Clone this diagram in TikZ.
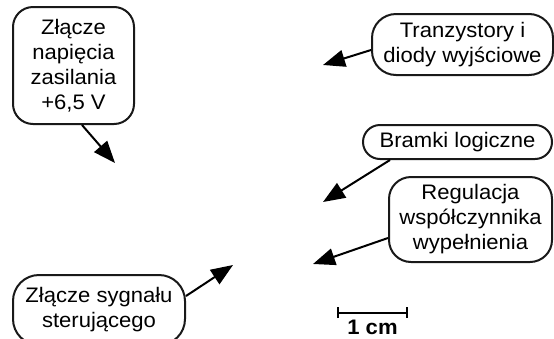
\documentclass[tikz,border=0pt]{standalone}
\usepackage{fontspec}
\setmainfont{Liberation Sans}[FakeStretch=1.05]
\usetikzlibrary{arrows.meta}
\begin{document}
\begin{tikzpicture}[x=1pt,y=-1pt,
  lbl/.style={draw=black!90, line width=2pt, fill=white, align=center, inner sep=0pt,
    font=\fontsize{21}{25}\selectfont},
  arr/.style={line width=2pt, -{Triangle[length=22pt,width=17pt]}}]
\useasboundingbox (0,0) rectangle (554,338);
\clip (0,0) rectangle (554,338);
\node[lbl, rounded corners=20pt, minimum width=121pt, minimum height=117pt] (b1) at (73.5,65.5)
  {Złącze\\napięcia\\zasilania\\+6,5 V};
\node[lbl, rounded corners=24pt, minimum width=181pt, minimum height=61pt] (b2) at (462.5,44.5)
  {Tranzystory i\\diody wyjściowe};
\node[lbl, rounded corners=17pt, minimum width=189pt, minimum height=34pt] (b3) at (457.5,142)
  {Bramki logiczne};
\node[lbl, rounded corners=22pt, minimum width=163pt, minimum height=85pt] (b4) at (470.5,219.5)
  {Regulacja\\współczynnika\\wypełnienia};
\node[lbl, rounded corners=26pt, minimum width=172pt, minimum height=70pt] (b5) at (99,310)
  {Złącze sygnału\\sterującego};
\coordinate (t1) at (115,163);
\coordinate (t2) at (323,65);
\coordinate (t3) at (323,202);
\coordinate (t4) at (313,264);
\coordinate (t5) at (233,265);
\draw[arr] ([xshift=8.5pt]b1.south) -- (t1);
\draw[arr] ([yshift=-5.5pt]b2.west) -- (t2);
\draw[arr] ([xshift=-67.5pt]b3.south) -- (t3);
\draw[arr] ([yshift=-18.5pt]b4.west) -- (t4);
\draw[arr] ([yshift=14pt]b5.east) -- (t5);
\coordinate (s1) at (337,312.5);
\coordinate (s2) at (408,312.5);
\draw[line width=2pt, {Bar[width=11pt]}-{Bar[width=11pt]}] (s1) -- (s2);
\node[font=\fontsize{21}{22}\selectfont\bfseries, inner sep=0pt, anchor=base] (cm) at (372.5,334) {1 cm};
\end{tikzpicture}
\end{document}
